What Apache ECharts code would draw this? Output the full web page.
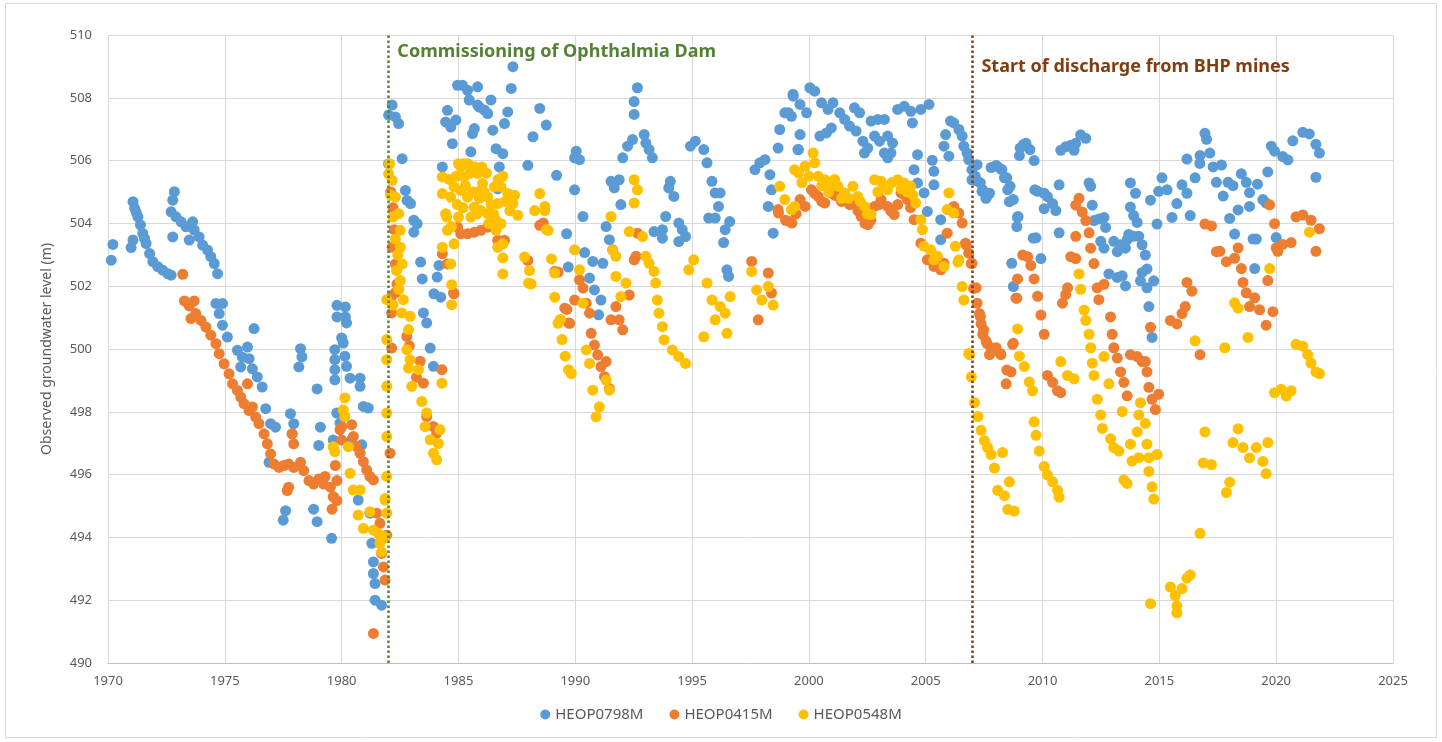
<!DOCTYPE html>
<html>
<head>
<meta charset="utf-8">
<script src="https://cdn.jsdelivr.net/npm/echarts@6/dist/echarts.min.js"></script>
<style>
  html, body { margin: 0; padding: 0; background: #fff; }
  #main { width: 1442px; height: 742px; }
</style>
</head>
<body>
<div id="main"></div>
<script>
(function () {
	// x ticks / y ticks
	var yearTicks = [1970, 1975, 1980, 1985, 1990, 1995, 2000, 2005, 2010, 2015, 2020, 2025];
	var levelTicks = [490, 492, 494, 496, 498, 500, 502, 504, 506, 508, 510];
	var seriesNames = ["HEOP0798M", "HEOP0415M", "HEOP0548M"];
	var events = [
		{ year: 1982, text: "Commissioning of Ophthalmia Dam", color: "#548235" },
		{ year: 2007, text: "Start of discharge from BHP mines", color: "#843C0C" }
	];

	// HEOP0798M  [decimal year, level m]
	var heop0798 = [
		[1970.14,502.83],[1970.21,503.33],[1970.99,503.23],[1971.07,503.47],[1971.07,504.69],[1971.14,504.48],[1971.21,504.35],[1971.28,504.21],[1971.39,503.95],[1971.49,503.68],[1971.56,503.52],[1971.63,503.36],[1971.78,503.04],[1971.92,502.78],[1972.13,502.62],[1972.34,502.51],[1972.56,502.40],[1972.7,502.35],
		[1972.84,505.01],[1972.77,504.74],[1972.7,504.37],[1972.91,504.21],[1972.77,503.57],[1973.13,504.05],[1973.34,503.89],[1973.62,504.05],[1973.69,503.79],[1973.48,503.47],[1973.9,503.57],[1974.05,503.31],[1974.26,503.15],[1974.4,502.94],[1974.55,502.72],[1974.69,502.40],
		[1974.62,501.45],[1974.9,501.45],[1974.76,501.13],[1974.9,500.76],[1975.11,500.38],[1976.25,500.65],[1975.54,499.96],[1975.75,499.74],[1975.97,500.06],[1976.04,499.69],[1975.68,499.43],[1976.18,499.37],[1976.39,499.11],[1976.6,498.79],[1976.75,498.1],[1976.96,497.62],[1977.17,497.51],[1976.89,496.39],[1977.81,497.94],[1977.95,497.62],[1977.88,497.3],[1978.24,500.01],[1978.17,499.43],[1978.3,499.75],[1978.95,498.73],[1979.09,497.51],[1979.02,496.93],
		[1977.6,494.85],[1977.5,494.55],[1978.8,494.9],[1978.95,494.5],[1979.57,493.97],
		[1979.8,501.39],[1980.16,501.34],[1979.8,501.02],[1980.16,501.02],[1980.21,500.83],[1980.0,500.35],[1980.07,500.19],[1979.71,499.98],[1979.71,499.66],[1980.14,499.77],[1979.71,499.34],[1979.71,499.02],[1980.21,499.45],[1980.36,499.07],[1980.79,499.07],[1980.79,498.81],[1980.93,498.17],[1981.14,498.12],[1979.64,497.1],[1979.79,497.96],[1979.93,497.64],[1980.43,497.1],[1980.86,496.95],[1980.71,495.19],[1981.21,494.77],[1981.29,493.81],[1981.36,493.22],[1981.36,492.85],[1981.43,492.53],[1981.43,492.0],[1981.71,491.84],
		[1982.16,507.77],[1982.01,507.45],[1982.3,507.39],[1982.44,507.18],[1982.01,505.9],[1982.59,506.06],[1982.73,505.05],[1982.8,504.73],[1982.95,504.63],[1983.09,504.1],[1983.23,503.99],[1983.09,503.72],[1983.38,502.77],[1983.45,502.23],[1984.09,502.29],[1984.17,502.66],[1983.95,501.76],[1984.24,501.65],[1983.5,501.15],[1983.64,500.83],[1983.79,500.03],[1983.93,499.45],
		[1984.31,505.8],[1984.53,507.6],[1984.45,507.23],[1984.67,507.07],[1984.89,507.29],[1984.74,506.54],[1984.96,508.4],[1985.17,508.4],[1985.39,508.24],[1985.82,508.35],[1985.46,507.93],[1985.82,507.77],[1986.11,507.61],[1986.39,507.93],[1986.25,507.5],[1985.89,507.7],[1985.68,507.02],[1985.6,506.86],[1986.47,506.97],[1986.61,506.38],[1986.9,506.22],[1986.97,507.18],[1987.11,507.55],[1987.33,508.99],[1987.26,508.3],[1985.53,506.28],[1986.75,505.8],[1987.97,505.85],[1988.48,507.66],[1988.76,507.13],[1988.19,506.76],[1989.2,505.53],[1989.63,503.67],[1989.7,502.61],[1986.68,505.1],
		[1989.97,505.07],[1990.04,506.3],[1990.18,506.03],[1989.97,506.09],[1990.33,504.22],[1990.4,503.07],[1990.61,502.26],[1990.82,501.88],[1991.1,501.56],[1990.75,502.79],[1991.18,502.73],[1991.0,501.09],[1991.32,503.9],[1991.46,503.48],[1991.6,503.16],[1991.53,505.34],[1991.88,505.39],[1991.67,505.13],[1991.95,504.6],[1992.03,506.09],[1992.24,506.46],[1992.45,506.67],[1992.52,507.47],[1992.66,508.32],[1992.52,507.88],[1992.95,506.83],[1993.02,506.56],[1993.16,506.35],[1993.3,506.09],[1994.07,505.34],[1994.0,505.13],[1994.22,504.86],[1993.87,504.22],[1993.37,503.74],[1993.73,503.8],[1993.73,503.53],[1994.43,504.01],[1994.58,503.8],[1994.72,503.58],[1994.43,503.42],
		[1994.93,506.46],[1995.14,506.62],[1995.5,506.35],[1995.64,505.93],[1995.85,505.34],[1995.99,504.97],[1996.2,504.97],[1996.13,504.54],[1995.71,504.17],[1995.99,504.17],[1996.61,504.06],[1996.42,503.8],[1996.35,503.39],[1996.49,502.52],[1996.56,502.31],[1997.69,505.71],[1997.9,505.93],[1998.12,506.03],[1998.33,505.55],[1998.4,505.07],[1998.26,504.54],[1998.47,503.69],[1998.68,506.4],[1998.75,506.99],[1998.97,507.52],[1999.25,507.41],[1999.32,508.11],[1999.53,506.35],
		[1999.12,507.52],[1999.33,508.05],[1999.62,507.79],[1999.9,507.52],[2000.04,508.32],[2000.25,508.21],[1999.62,506.83],[1999.55,506.35],[2000.47,506.78],[2000.75,506.88],[2000.96,507.04],[2000.54,507.84],[2000.82,507.63],[2001.03,507.84],[2001.32,507.52],[2001.53,507.31],[2001.74,507.1],[2001.95,507.68],[2002.17,507.52],[2002.02,506.94],[2002.31,506.62],[2002.52,506.4],[2002.38,506.24],[2002.81,506.78],[2003.02,506.62],[2003.37,506.78],[2003.58,506.56],[2003.51,506.24],[2003.23,506.24],[2003.37,506.09],[2002.66,507.26],[2002.95,507.31],[2003.23,507.31],[2003.8,507.63],[2004.08,507.73],[2004.36,507.57],[2004.43,507.2],[2004.79,507.63],[2005.14,507.79],[2004.65,506.19],[2004.5,505.71],[2004.65,505.29],[2004.93,504.97],[2005.07,504.38],[2005.28,506.01],[2005.35,505.66],[2005.35,505.23],[2005.64,504.12],[2005.64,503.48],
		[2005.78,506.46],[2005.85,506.83],[2006.06,507.26],[2006.2,507.2],[2006.42,506.99],[2006.56,506.78],[2005.99,506.14],[2006.63,506.46],[2006.77,506.24],[2006.84,506.03],[2006.98,505.71],[2007.2,505.87],[2007.12,505.5],[2007.34,505.29],[2007.41,505.02],[2007.62,504.86],[2006.98,505.39],[2008.05,505.82],[2008.26,505.71],[2008.47,505.45],[2008.61,505.18],[2008.75,504.76],[2008.95,504.22],[2008.9,503.9],[2009.04,506.4],[2009.18,506.51],[2009.46,506.35],[2009.67,505.07],[2008.68,502.73],[2008.75,501.99],[2009.6,503.53],
		[2007.09,505.51],[2007.23,505.34],[2007.44,505.07],[2007.58,504.8],[2007.73,504.96],[2007.8,505.78],[2008.01,505.84],[2008.22,505.73],[2008.37,505.45],[2008.51,505.07],[2008.58,504.69],[2008.93,504.19],[2009.29,506.55],[2009.64,506.0],[2009.01,506.16],[2009.72,503.54],[2009.93,502.88],[2009.79,505.02],[2010.07,504.96],[2010.21,504.85],[2010.43,504.63],[2010.57,504.41],[2010.07,504.47],[2010.71,503.7],[2010.71,505.23],[2010.78,506.33],[2010.99,506.44],[2011.21,506.49],[2011.35,506.33],[2011.63,506.82],[2011.85,506.71],[2011.42,506.55],[2011.99,505.29],[2012.06,505.18],[2012.13,504.58],[2012.2,504.09],[2012.41,504.14],[2012.63,504.19],[2012.7,503.87],[2012.49,503.43],[2012.63,503.21],[2013.05,503.43],[2013.2,503.1],[2013.34,503.32],[2013.55,503.21],[2013.62,503.48],[2012.84,502.39],[2013.2,502.28],[2013.41,502.33],[2013.55,502.01],
		[2013.76,505.29],[2013.98,504.96],[2013.76,504.52],[2013.9,504.25],[2014.05,504.03],[2013.69,503.65],[2013.9,503.59],[2014.12,503.59],[2014.26,503.32],[2014.4,502.99],[2014.26,502.44],[2014.47,502.55],[2014.19,502.17],[2014.47,501.95],[2014.76,502.17],[2014.55,501.35],[2014.69,500.37],[2014.62,504.74],[2014.9,503.98],[2014.97,505.02],[2015.11,505.45],[2015.33,505.07],[2015.54,504.19],[2015.75,504.63],[2015.97,505.23],[2016.18,504.96],[2016.32,504.25],[2016.18,506.05],[2016.53,505.45],[2016.74,506.16],[2016.95,506.87],[2016.73,505.91],
		[2017.02,506.68],[2017.16,506.24],[2017.3,505.8],[2017.66,505.86],[2017.44,505.31],[2017.94,505.31],[2017.73,504.87],[2018.15,505.2],[2018.51,505.58],[2018.72,505.31],[2018.86,504.98],[2019.2,505.25],[2019.64,505.64],[2018.01,504.16],[2018.37,504.43],[2018.86,504.54],[2019.43,504.76],[2019.57,504.65],[2018.22,503.66],[2019.01,503.5],[2019.15,503.5],[2020.0,503.55],[2019.08,502.56],[2019.79,506.46],[2019.93,506.3],[2020.28,506.13],[2020.5,506.02],[2020.71,506.63],[2021.14,506.9],[2021.42,506.85],[2021.7,506.52],[2021.85,506.24],[2021.7,505.47]
	];

	// HEOP0415M
	var heop0415 = [
		[1973.2,502.38],[1973.27,501.53],[1973.48,501.37],[1973.69,501.53],[1973.55,500.97],[1973.76,501.13],[1973.98,500.91],[1974.19,500.7],[1974.4,500.44],[1974.62,500.17],[1974.76,499.85],[1974.97,499.53],[1975.18,499.21],[1975.33,498.89],[1975.54,498.68],[1975.68,498.47],[1975.82,498.26],[1975.97,498.89],[1976.04,498.04],[1976.18,498.15],[1976.32,497.83],[1976.46,497.62],[1976.68,497.3],[1976.82,496.98],[1976.96,496.66],[1977.1,496.34],[1977.32,496.23],[1977.53,496.29],[1977.73,496.34],[1977.95,496.23],[1978.24,496.39],[1977.88,497.3],[1977.95,496.98],[1977.73,495.6],[1977.67,495.49],[1978.38,496.13],[1978.6,495.81],[1978.8,495.7],[1979.02,495.86],[1979.23,495.7],[1979.52,495.6],[1979.66,495.28],[1979.59,494.9],[1979.8,495.17],[1979.8,495.81],[1979.73,496.29],[1980.0,497.51],[1980.0,497.1],
		[1979.93,497.43],[1980.43,497.59],[1980.5,497.21],[1980.64,496.89],[1980.79,496.68],[1980.93,496.41],[1981.07,496.15],[1981.21,495.94],[1981.36,495.83],[1979.29,495.94],[1979.64,495.3],[1981.5,494.77],[1981.64,494.45],[1981.71,493.91],[1981.71,493.49],[1981.79,493.06],[1981.86,492.64],[1981.36,490.94],[1982.07,496.68],[1981.93,494.07],
		[1982.1,505.0],[1982.2,504.5],[1982.25,503.8],[1982.16,503.24],[1982.3,502.71],[1982.37,502.07],[1982.14,501.68],[1982.29,501.79],[1982.14,501.15],[1982.14,500.03],[1982.79,500.4],[1982.9,500.1],[1983.2,499.1],[1983.36,499.61],[1983.5,498.91],[1984.29,499.34],[1983.64,497.85],[1983.93,497.53],[1984.07,497.32],[1984.79,501.79],
		[1984.96,503.88],[1985.1,503.67],[1985.39,503.67],[1985.68,503.72],[1985.96,503.78],[1986.25,503.88],[1988.48,503.94],[1989.27,502.45],[1986.68,503.46],[1986.97,503.46],[1984.31,503.03],[1984.53,502.71],[1984.81,501.76],[1987.97,502.82],[1989.64,501.26],[1989.71,500.83],
		[1988.63,504.01],[1989.12,502.47],[1989.55,501.3],[1989.76,500.82],[1989.97,501.56],[1990.18,502.2],[1990.33,501.94],[1990.47,501.46],[1990.61,501.14],[1990.68,500.5],[1990.82,500.13],[1990.96,499.81],[1991.1,499.44],[1991.32,499.6],[1991.25,499.12],[1991.46,498.74],[1991.53,500.93],[1991.74,501.35],[1991.88,500.93],[1992.03,500.61],[1992.31,501.72],[1992.52,502.84],[1992.66,503.69],[1992.6,502.95],[1997.55,502.79],[1997.83,500.93],[1998.26,502.42],[1998.4,501.78],[1998.68,504.44],[1999.18,504.06],
		[1998.7,504.33],[1999.27,504.01],[1999.62,504.76],[1999.84,504.54],[2000.11,505.07],[2000.4,504.86],[2000.68,504.65],[2000.96,504.97],[2001.25,504.86],[2001.53,504.86],[2001.95,504.65],[2002.24,504.22],[2002.52,503.96],[2002.81,504.54],[2003.09,504.76],[2003.37,504.54],[2003.65,504.28],[2003.94,504.97],[2004.22,504.76],[2004.5,504.12],[2004.79,503.37],[2005.07,502.84],[2005.35,502.63],[2005.64,502.52],[2005.78,502.73],[2005.92,503.69],[2006.2,504.54],[2006.42,504.33],[2006.56,504.01],[2006.7,503.37],[2006.84,503.05],[2006.98,502.73],[2007.05,501.93],[2007.2,501.46],[2007.34,501.03],[2007.48,500.61],[2007.62,500.18],[2007.9,499.97],[2008.19,499.86],[2008.47,499.33],[2008.9,501.62],[2008.75,500.18],
		[1999.0,504.1],[1999.45,504.3],[2000.25,504.95],[2000.55,504.7],[2001.1,504.9],[2001.4,504.7],[2001.75,504.6],[2002.1,504.4],[2002.4,504.0],[2002.65,504.1],[2003.0,504.6],[2003.5,504.4],[2003.8,504.6],[2004.1,504.9],[2004.35,504.5],
		[2006.73,503.32],[2006.95,502.72],[2007.16,501.95],[2007.3,501.13],[2007.37,500.8],[2007.44,500.47],[2007.58,500.26],[2007.8,500.04],[2008.01,500.04],[2008.22,499.82],[2007.73,499.82],[2008.44,498.89],[2008.65,499.27],[2008.72,500.15],[2008.86,501.62],[2008.93,502.23],[2009.15,502.99],[2009.36,502.94],[2009.5,502.66],[2009.64,502.23],[2009.79,501.68],[2009.93,501.08],[2010.07,500.47],[2010.21,499.16],[2010.43,498.94],[2010.64,498.67],[2010.78,498.61],[2010.85,501.46],[2010.99,501.73],[2011.07,501.95],[2011.21,502.94],[2011.42,502.88],[2011.42,503.59],[2011.56,504.8],[2011.42,504.58],[2011.7,504.36],[2011.85,504.09],[2011.99,503.7],[2012.06,503.21],[2012.2,502.72],[2012.34,501.95],[2012.41,501.57],[2012.63,502.06],[2012.91,501.02],[2012.98,500.47],[2013.05,500.04],[2013.2,499.71],[2013.34,499.27],[2013.48,498.94],[2013.62,498.51],[2013.76,499.82],[2014.05,499.76],[2014.26,499.6],[2014.4,499.6],[2014.47,499.27],[2014.55,498.78],[2014.69,498.4],[2014.83,498.07],[2014.97,498.56],[2014.62,500.69],[2015.47,500.91],[2015.75,500.8],[2015.97,501.13],[2016.11,501.35],[2016.18,502.12],[2016.39,501.84],[2016.74,499.82],[2016.95,503.98],[2017.23,503.92],[2017.44,503.1],
		[2017.59,503.11],[2017.87,502.78],[2018.22,502.89],[2018.37,503.22],[2018.51,502.56],[2018.58,502.12],[2018.72,501.79],[2018.86,501.35],[2019.08,501.63],[2019.29,501.25],[2019.57,500.76],[2019.86,501.19],[2019.72,504.59],[2019.93,503.99],[2019.64,502.18],[2020.0,503.22],[2020.28,503.33],[2020.64,503.39],[2020.07,503.11],[2020.85,504.21],[2021.14,504.27],[2021.49,504.1],[2021.85,503.83],[2021.7,503.11]
	];

	// HEOP0548M
	var heop0548 = [
		[1979.64,496.89],[1979.71,496.73],[1980.29,496.89],[1980.14,498.44],[1980.14,497.85],[1980.07,498.06],[1980.36,496.04],[1980.5,495.51],[1980.79,495.51],[1980.71,494.71],[1980.93,494.29],[1981.36,494.23],[1981.21,494.82],[1981.57,494.13],[1981.71,493.54],[1981.86,495.24],[1981.64,493.81],
		[1981.93,501.57],[1981.93,500.3],[1981.93,499.66],[1981.93,498.81],[1981.93,497.96],[1981.93,497.21],[1981.93,495.94],[1981.86,495.19],[1981.93,494.77],[1981.86,494.02],
		[1982.16,505.37],[1982.3,504.84],[1982.44,504.31],[1982.51,503.78],[1982.51,503.24],[1982.59,502.71],[1982.51,502.18],[1982.01,505.58],
		[1982.05,505.9],[1982.1,504.9],[1982.2,504.2],[1982.3,503.5],[1982.4,503.0],[1982.35,502.5],[1982.45,501.9],[1982.2,501.4],
		[1982.57,501.15],[1982.93,501.04],[1982.64,501.57],[1982.86,500.62],[1982.79,499.98],[1982.93,499.66],[1982.86,499.39],[1983.29,499.34],[1983.0,498.81],[1983.43,498.33],[1983.64,497.96],[1983.57,497.53],[1983.79,497.11],[1983.93,496.68],[1984.07,496.47],[1984.21,497.43],[1984.14,496.99],[1984.29,498.91],[1984.71,501.41],[1984.71,502.05],
		[1984.31,505.48],[1984.31,504.95],[1984.45,504.31],[1984.53,503.78],[1984.31,503.24],[1984.67,502.71],[1984.81,503.35],[1985.1,505.8],[1985.24,505.48],[1985.82,505.59],[1986.03,505.27],[1986.25,504.84],[1986.54,505.16],[1986.82,505.16],[1987.11,504.95],[1987.33,504.63],[1987.54,504.26],[1985.1,505.05],[1985.39,504.84],[1985.68,504.52],[1985.53,504.2],[1985.96,504.41],[1986.25,504.31],[1984.67,504.84],[1984.81,505.16],[1985.82,505.0],[1986.68,504.63],[1986.82,503.99],[1986.9,503.35],[1986.9,502.9],[1986.9,502.39],[1986.61,503.78],[1986.68,503.24],
		[1984.9,505.5],[1985.3,505.2],[1985.5,505.6],[1985.6,505.0],[1985.9,504.8],[1986.1,505.0],[1986.4,504.6],[1986.0,505.8],[1985.4,505.9],[1984.6,505.4],[1986.7,505.4],[1987.0,504.7],[1985.2,504.5],[1984.95,504.6],
		[1984.5,504.2],[1984.7,503.9],[1985.0,504.2],[1985.7,505.8],[1986.2,505.6],[1986.5,504.3],[1985.2,505.9],[1986.3,504.0],[1985.8,504.3],[1986.6,504.1],[1987.2,504.4],[1987.4,504.9],[1985.0,505.9],[1986.9,505.5],
		[1988.48,504.95],[1988.26,504.41],[1988.69,504.41],[1988.84,503.78],[1987.83,502.93],[1988.04,502.5],[1988.11,502.07],[1988.98,502.87],[1989.12,501.65],[1988.0,502.1],[1989.36,500.94],[1989.43,500.3],[1989.57,499.77],[1989.71,499.34],
		[1988.7,504.54],[1988.77,503.8],[1989.12,502.42],[1989.26,500.82],[1989.83,499.22],[1989.97,503.16],[1990.18,502.52],[1990.33,501.46],[1990.47,499.97],[1990.61,499.54],[1990.75,498.69],[1990.89,497.84],[1991.03,498.16],[1991.32,499.01],[1991.46,498.69],[1991.74,502.31],[1991.95,501.67],[1992.17,502.1],[1991.53,504.22],[1991.6,503.16],[1991.74,502.95],[1992.52,505.39],[1992.66,505.07],[1992.52,504.65],[1992.31,503.74],[1992.88,503.58],[1993.02,502.95],[1993.16,502.73],[1993.37,502.47],[1993.44,502.1],[1993.51,501.56],[1993.58,501.14],[1993.73,500.71],[1993.8,500.29],[1994.15,499.97],[1994.43,499.76],[1994.72,499.54],[1994.86,502.52],[1995.07,502.84],[1995.5,500.39],[1995.64,502.1],[1995.85,501.56],[1995.99,500.93],[1996.2,501.35],[1996.42,501.14],[1996.49,500.5],[1996.63,501.67],[1997.55,502.47],[1997.76,501.88],[1997.98,501.56],[1998.26,501.99],[1998.47,501.4],[1998.75,505.18],[1998.97,504.76],[1999.25,504.44],[1999.39,504.54],[1999.39,505.71],
		[1999.55,505.61],[1999.84,505.82],[2000.18,506.24],[2000.25,505.93],[2000.4,505.5],[2000.68,505.39],[2000.96,505.29],[2001.25,505.18],[2001.53,504.97],[2001.88,505.18],[2002.09,504.86],[2002.38,504.54],[2002.66,504.28],[2002.81,505.39],[2003.09,505.34],[2003.37,505.07],[2003.8,505.39],[2004.08,505.29],[2004.36,505.18],[2004.57,504.65],[2004.79,504.12],[2004.86,503.8],[2004.93,503.27],[2005.21,503.16],[2005.5,502.95],[2005.78,502.63],[2005.35,502.84],[2005.99,504.97],[2005.92,504.44],[2006.2,504.33],[2006.27,503.27],[2006.42,502.84],[2006.56,501.99],[2006.63,501.56],[2006.84,499.86],
		[1999.7,505.3],[2000.0,505.5],[2000.55,505.2],[2000.85,505.0],[2001.1,505.4],[2001.4,504.8],[2001.7,504.8],[2002.2,504.7],[2002.5,504.3],[2002.95,505.0],[2003.2,505.2],[2003.55,505.3],[2003.95,505.1],[2004.2,505.0],[2004.45,504.9],
		[2006.38,502.77],[2006.88,499.82],[2006.95,499.11],[2007.09,498.29],[2007.23,497.85],[2007.37,497.41],[2007.51,497.08],[2007.65,496.86],[2007.8,496.64],[2007.94,496.21],[2008.29,496.7],[2008.08,495.5],[2008.37,495.33],[2008.58,495.77],[2008.51,494.89],[2008.79,494.84],[2008.93,500.64],[2009.01,499.77],[2009.22,499.44],[2009.43,498.95],[2009.57,498.67],[2009.64,497.68],[2009.72,497.25],[2009.86,496.75],[2010.07,496.26],[2010.21,495.99],[2010.43,495.77],[2010.64,495.5],[2010.71,495.28],[2010.78,499.6],[2011.07,499.16],[2011.35,499.05],[2011.56,502.39],[2011.63,501.9],[2011.78,501.24],[2011.85,500.91],[2011.99,500.47],[2012.06,500.04],[2012.13,499.55],[2012.2,499.16],[2012.34,498.4],[2012.49,497.9],[2012.56,497.47],[2012.91,497.14],[2013.05,496.86],[2013.27,496.75],[2012.63,499.76],[2012.84,498.89],[2013.48,495.83],[2013.62,495.72],[2013.41,498.01],[2013.76,496.97],[2013.83,496.43],[2014.12,496.54],[2014.19,498.29],[2014.12,497.9],[2014.4,497.63],[2014.05,497.36],[2014.47,496.97],[2014.55,496.54],[2014.55,496.1],[2014.69,495.61],[2014.76,495.22],[2014.9,496.64],[2014.62,491.89],[2016.53,500.26],[2016.74,494.13],[2015.47,492.42],[2015.68,492.15],[2015.75,491.82],[2015.97,492.37],[2016.18,492.7],[2016.32,492.81],[2016.95,497.36],[2016.88,496.37],[2017.23,496.32],[2015.75,491.6],
		[2018.22,501.47],[2018.37,501.3],[2017.8,500.04],[2018.79,500.37],[2019.72,502.56],[2021.42,503.72],[2020.85,500.15],[2021.14,500.09],[2021.35,499.82],[2021.49,499.55],[2021.7,499.27],[2021.85,499.22],[2019.93,498.61],[2020.21,498.72],[2020.43,498.5],[2020.64,498.67],[2018.15,497.02],[2018.37,497.46],[2018.58,496.86],[2018.86,496.53],[2019.15,496.86],[2019.43,496.42],[2019.64,497.02],[2019.57,496.03],[2018.01,495.76],[2017.87,495.43]
	];

	var colors = ["#5B9BD5", "#ED7D31", "#FFC000"];
	var textColor = "#595959";
	var font = "'Noto Sans', 'Open Sans', sans-serif";

	var chart = echarts.init(document.getElementById("main"));

	function scatter(name, data, color) {
		return {
			name: name,
			type: "scatter",
			data: data,
			symbol: "circle",
			symbolSize: 11,
			itemStyle: { color: color, opacity: 1 },
			emphasis: { disabled: true }
		};
	}

	var series = [
		scatter(seriesNames[0], heop0798, colors[0]),
		scatter(seriesNames[1], heop0415, colors[1]),
		scatter(seriesNames[2], heop0548, colors[2])
	];
	// dotted event lines
	series[0].markLine = {
		silent: true,
		symbol: "none",
		label: { show: false },
		data: events.map(function (e) {
			return { xAxis: e.year, lineStyle: { color: e.color, type: [2.5, 2.5], width: 2.5 } };
		})
	};

	chart.setOption({
		animation: false,
		backgroundColor: "#ffffff",
		textStyle: { fontFamily: font },
		grid: { left: 108, right: 49, top: 35, bottom: 79 },
		legend: {
			data: seriesNames,
			bottom: 15,
			left: "center",
			icon: "circle",
			itemWidth: 10,
			itemHeight: 10,
			itemGap: 26,
			textStyle: { color: textColor, fontSize: 15, fontFamily: font }
		},
		xAxis: {
			type: "value",
			min: yearTicks[0],
			max: yearTicks[yearTicks.length - 1],
			interval: 5,
			axisLine: { show: true, lineStyle: { color: "#bfbfbf" } },
			axisTick: { show: false },
			axisLabel: {
				color: textColor, fontSize: 13, margin: 12,
				formatter: function (v) { return String(v); }
			},
			splitLine: { show: true, lineStyle: { color: "#d9d9d9" } }
		},
		yAxis: {
			type: "value",
			min: levelTicks[0],
			max: levelTicks[levelTicks.length - 1],
			interval: 2,
			name: "Observed groundwater level (m)",
			nameLocation: "middle",
			nameGap: 54,
			nameTextStyle: { color: textColor, fontSize: 14 },
			axisLine: { show: false },
			axisTick: { show: false },
			axisLabel: { color: textColor, fontSize: 13, margin: 16 },
			splitLine: { show: true, lineStyle: { color: "#d9d9d9" } }
		},
		series: series
	});

	// annotation texts next to the event lines
	var labelY = [509.45, 509.0];
	var graphics = [{
		type: "rect",
		shape: { x: 5.5, y: 3.5, width: 1431, height: 734 },
		style: { fill: "none", stroke: "#d9d9d9", lineWidth: 1 },
		silent: true
	}];
	events.forEach(function (e, i) {
		var p = chart.convertToPixel({ gridIndex: 0 }, [e.year, labelY[i]]);
		graphics.push({
			type: "text",
			x: p[0] + 9,
			y: p[1],
			style: {
				text: e.text,
				fill: e.color,
				font: "bold 18px " + font,
				textVerticalAlign: "middle"
			},
			silent: true
		});
	});
	chart.setOption({ graphic: graphics });
})();
</script>
</body>
</html>
